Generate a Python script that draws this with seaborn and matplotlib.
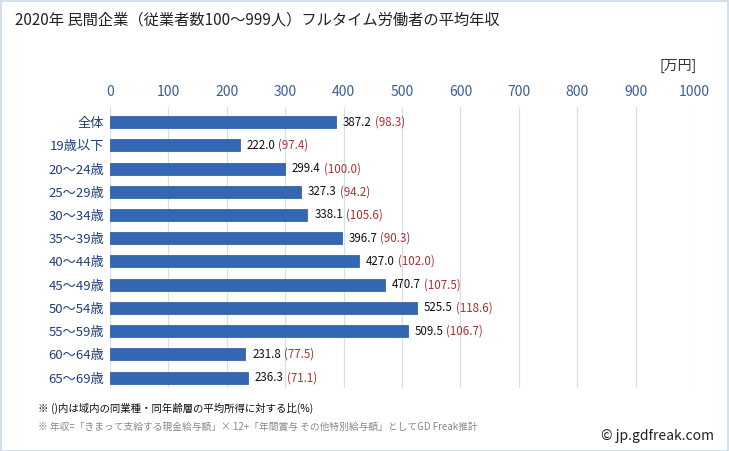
import matplotlib
matplotlib.use("Agg")
import matplotlib.pyplot as plt
import seaborn as sns
import pandas as pd
from matplotlib.patches import Rectangle

categories = ["全体", "19歳以下", "20〜24歳", "25〜29歳", "30〜34歳", "35〜39歳",
              "40〜44歳", "45〜49歳", "50〜54歳", "55〜59歳", "60〜64歳", "65〜69歳"]
incomes = [387.2, 222.0, 299.4, 327.3, 338.1, 396.7, 427.0, 470.7, 525.5, 509.5, 231.8, 236.3]
ratios = [98.3, 97.4, 100.0, 94.2, 105.6, 90.3, 102.0, 107.5, 118.6, 106.7, 77.5, 71.1]
xticks = [0, 100, 200, 300, 400, 500, 600, 700, 800, 900, 1000]

title = "2020年 民間企業（従業者数100〜999人）フルタイム労働者の平均年収"
unit = "[万円]"
note1 = "※ ()内は域内の同業種・同年齢層の平均所得に対する比(%)"
note2 = "※ 年収=「きまって支給する現金給与額」× 12+「年間賞与 その他特別給与額」としてGD Freak推計"
credit = "© jp.gdfreak.com"

sns.set_theme(style="white")
plt.rcParams['font.family'] = ['Noto Sans CJK JP', 'DejaVu Sans']

df = pd.DataFrame({"cat": categories, "val": incomes})

fig = plt.figure(figsize=(7.29, 4.51), dpi=100)
fig.patches.append(Rectangle((0.001, 0.001), 0.998, 0.997, transform=fig.transFigure,
                             fill=False, edgecolor="#c9d9ea", linewidth=1.2))
ax = fig.add_axes([110/729, 1-388/451, (694-110)/729, (388-107)/451])

sns.barplot(data=df, x="val", y="cat", orient="h", color="#3366b3", width=0.52,
            ax=ax, saturation=1, edgecolor="#2a5596", linewidth=0.5)

ax.set_xlim(0, 1000)
ax.set_ylim(11.45, -0.65)
ax.set_xticks(xticks)
ax.xaxis.tick_top()
ax.tick_params(axis="x", length=0, labelsize=10, labelcolor="#3a5f93", pad=6)
ax.tick_params(axis="y", length=0, labelsize=9.5, labelcolor="#1f3f7a", pad=4)
ax.set_xlabel("")
ax.set_ylabel("")
for s in ax.spines.values():
    s.set_visible(False)
ax.grid(False)
for xv in xticks:
    ax.axvline(xv, color="#d3e0ee", linewidth=0.9, zorder=0)

fig.canvas.draw()
renderer = fig.canvas.get_renderer()
for i, (v, r) in enumerate(zip(incomes, ratios)):
    t = ax.annotate(f"{v:.1f}", xy=(v, i), xytext=(5, 0), textcoords="offset points",
                    va="center", ha="left", fontsize=8.3, color="#111111")
    bb = t.get_window_extent(renderer=renderer)
    x_disp = bb.x1 + 3
    xd = ax.transData.inverted().transform((x_disp, 0))[0]
    ax.text(xd, i, f"({r:.1f})", va="center", ha="left", fontsize=8.3, color="#a83232")

fig.text(15/729, 1-20/451, title, fontsize=11, color="#222222", va="center", ha="left")
fig.text(697/729, 1-66/451, unit, fontsize=10, color="#333333", va="center", ha="right")
fig.text(38/729, 1-408/451, note1, fontsize=7.5, color="#111111", va="center", ha="left")
fig.text(38/729, 1-427/451, note2, fontsize=7, color="#888888", va="center", ha="left")
fig.text(714/729, 1-436/451, credit, fontsize=10, color="#222222", va="center", ha="right")

fig.savefig("out.png", dpi=100)
